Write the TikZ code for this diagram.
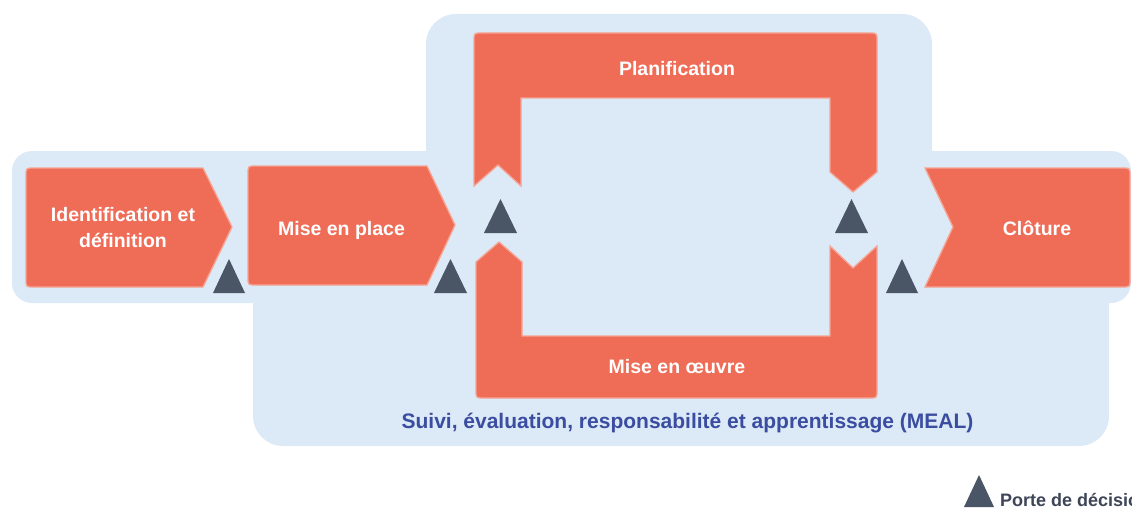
\documentclass[tikz,border=0pt]{standalone}
\usepackage{fontspec}
\setmainfont{Liberation Sans}
\definecolor{bgblue}{HTML}{DCE9F6}
\definecolor{phase}{HTML}{EF6C57}
\definecolor{phaseedge}{HTML}{F6A594}
\definecolor{gate}{HTML}{4A5566}
\definecolor{mealblue}{HTML}{3B4DA0}
\definecolor{legendtxt}{HTML}{3D4556}
\tikzset{
  phasebox/.style={fill=phase, draw=phaseedge, line width=1.3pt, line join=miter},
  gatetri/.style={fill=gate, draw=none},
  bgzone/.style={fill=bgblue, draw=none},
  phaselabel/.style={text=white, font=\fontsize{19.5}{26}\selectfont\bfseries, inner sep=0pt},
}
\begin{document}
\begin{tikzpicture}[x=1pt,y=-1pt]
\useasboundingbox (0,0) rectangle (1132,508);
\fill[white] (0,0) rectangle (1132,508);
% background zone
\fill[bgzone, rounded corners=20] (12,151) rectangle (1131,303);
\fill[bgzone, rounded corners=30] (426,14) rectangle (932,250);
\fill[bgzone, rounded corners=30] (253,200) rectangle (1109,446);
% Identification et definition
\draw[phasebox] (203,168) -- (232,227) -- (203,287) -- (34,287) .. controls (26,287) .. (26,279) -- (26,176) .. controls (26,168) .. (34,168) -- cycle;
% Mise en place
\draw[phasebox] (427,166) -- (455,225) -- (427,285) -- (256,285) .. controls (248,285) .. (248,277) -- (248,174) .. controls (248,166) .. (256,166) -- cycle;
% Cloture
\draw[phasebox] (925,168) -- (1122,168) .. controls (1130,168) .. (1130,176) -- (1130,279) .. controls (1130,287) .. (1122,287) -- (925,287) -- (953,227) -- cycle;
% Planification
\draw[phasebox] (474,186) -- (474,41) .. controls (474,33) .. (482,33) -- (869,33) .. controls (877,33) .. (877,41) -- (877,172) -- (853,192) -- (830,172) -- (830,98) -- (521,98) -- (521,186) -- (498,165) -- cycle;
% Mise en oeuvre
\draw[phasebox] (476,262) -- (499,242) -- (522,262) -- (522,336) -- (830,336) -- (830,246) -- (853,268) -- (877,246) -- (877,390) .. controls (877,398) .. (869,398) -- (484,398) .. controls (476,398) .. (476,390) -- cycle;
% decision gates
\fill[gatetri] (213,293) -- (245,293) -- (229,259) -- cycle;
\fill[gatetri] (434,293) -- (467,293) -- (450.5,259) -- cycle;
\fill[gatetri] (484,233) -- (517,233) -- (500.5,199) -- cycle;
\fill[gatetri] (835,233) -- (868,233) -- (851.5,199) -- cycle;
\fill[gatetri] (886,293) -- (918,293) -- (902,259) -- cycle;
\fill[gatetri] (964,507) -- (994,507) -- (979,475) -- cycle;
% labels
\node[phaselabel, align=center] (ident) at (123,228) {Identification et\\définition};
\node[phaselabel, anchor=base] (mep) at (341.5,235) {Mise en place};
\node[phaselabel, anchor=base] (plan) at (677,76) {Planification};
\node[phaselabel, anchor=base] (moe) at (677,373) {Mise en œuvre};
\node[phaselabel, anchor=base] (clo) at (1037,235) {Clôture};
\node[text=mealblue, font=\fontsize{21}{25}\selectfont\bfseries, inner sep=0pt, anchor=base] (meal) at (687.5,428) {Suivi, évaluation, responsabilité et apprentissage (MEAL)};
\node[text=legendtxt, font=\fontsize{18}{22}\selectfont\bfseries, inner sep=0pt, anchor=base west] (legend) at (1000,506) {Porte de décision};
\end{tikzpicture}
\end{document}
